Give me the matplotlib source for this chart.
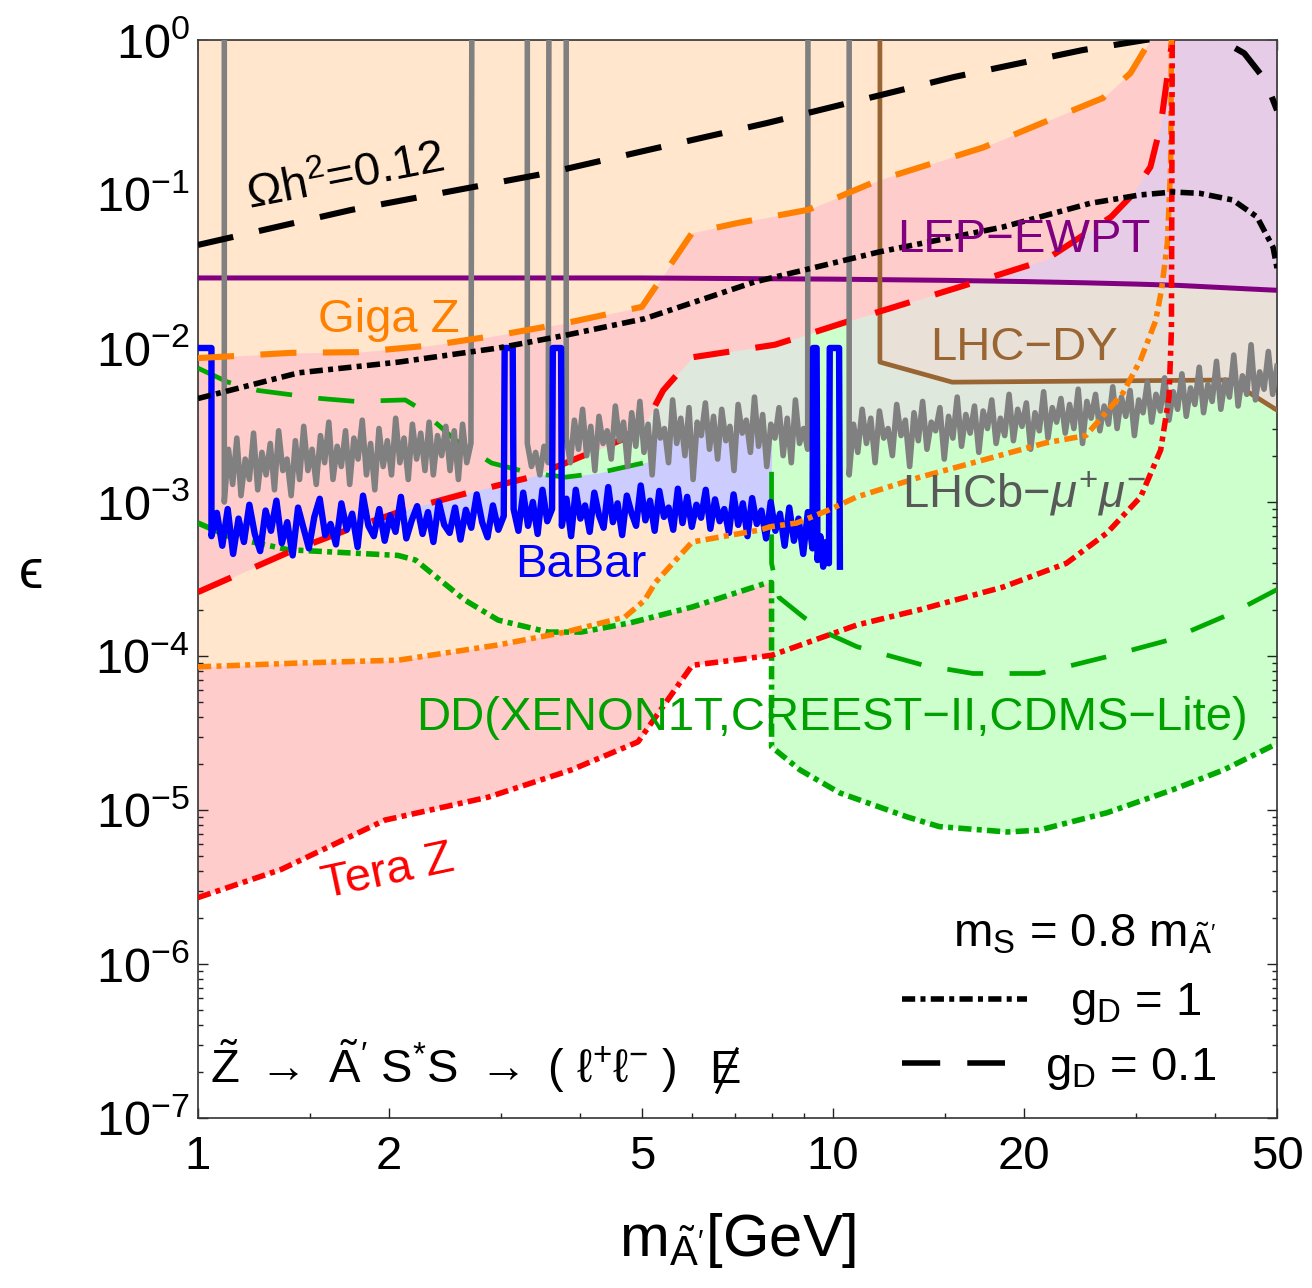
import numpy as np
import matplotlib
matplotlib.use("Agg")
import matplotlib.pyplot as plt
from matplotlib.lines import Line2D
from matplotlib.ticker import FixedLocator

plt.rcParams['font.family'] = ['Liberation Sans', 'DejaVu Sans']
plt.rcParams['mathtext.fontset'] = 'custom'
plt.rcParams['mathtext.rm'] = 'Liberation Sans'
plt.rcParams['mathtext.it'] = 'Liberation Sans:italic'
plt.rcParams['mathtext.bf'] = 'Liberation Sans:bold'
plt.rcParams['lines.scale_dashes'] = False

ORANGE = '#ff8000'
RED = '#ff0000'
GREEN = '#00a800'
BLUE = '#0000ff'
GREY = '#808080'
PURPLE = '#800080'
BROWN = '#996633'

PEACH = '#ffe6cc'
PINK = '#ffcccc'
LGREEN = '#ccffcc'
LBLUE = '#ccccff'
GREYGREEN = '#dfe8dd'
BEIGE = '#e9e1d8'
LAVENDER = '#e6cce6'

# relic density, g_D = 0.1 (dashed) and g_D = 1 (dot-dashed)
relic_01_m = [1.0, 1.74, 3.56, 5.11, 7.87, 15.5, 24.7, 27.8, 31.0, 34.5, 38.0, 40.3, 44.4, 47.9, 50.0]
relic_01_eps = [0.0467, 0.0787, 0.137, 0.193, 0.289, 0.575, 0.86, 0.93, 1.0, 1.06, 1.07, 1.03, 0.82, 0.55, 0.35]
relic_1_m = [1.0, 1.44, 2.07, 2.97, 3.79, 5.05, 7.51, 11.8, 18.5, 25.4, 30.4, 34.3, 37.8, 42.6, 46.5, 49.3, 50.0]
relic_1_eps = [4.7e-3, 6.9e-3, 8.1e-3, 1.0e-2, 1.21e-2, 1.55e-2, 2.68e-2, 4.2e-2, 6.1e-2, 8.7e-2,
               9.86e-2, 0.103, 0.101, 0.0914, 0.071, 0.045, 0.033]

# LEP electroweak precision
lep_m = [1.0, 5.0, 10.0, 15.0, 20.0, 25.0, 30.0, 35.0, 40.0, 45.0, 50.0]
lep_eps = [0.0285, 0.0285, 0.028, 0.0275, 0.027, 0.0265, 0.026, 0.0255, 0.0248, 0.0242, 0.0237]

# LHC Drell-Yan
lhcdy_m = [11.85, 11.85, 15.4, 42.0, 50.0]
lhcdy_eps = [1.0, 8.1e-3, 6.0e-3, 6.2e-3, 3.95e-3]

# Giga Z
gigaz_01_m = [1.0, 1.40, 1.79, 2.33, 2.97, 3.79, 5.0, 6.0, 7.1, 9.14, 11.8, 17.2, 23.3, 26.6, 29.4, 31.6]
gigaz_01_eps = [8.6e-3, 9.3e-3, 9.4e-3, 1.04e-2, 1.21e-2, 1.45e-2, 1.85e-2, 5.6e-2, 6.5e-2, 7.9e-2,
                0.123, 0.20, 0.336, 0.42, 0.61, 1.0]
gigaz_1_m = [1.0, 1.44, 2.07, 2.97, 3.79, 4.70, 5.05, 5.25, 6.0, 7.7, 7.95, 8.76, 9.86, 10.9, 13.7,
             17.2, 21.6, 25.0, 28.6, 30.5, 32.2, 32.9, 33.6, 34.0, 34.1]
gigaz_1_eps = [8.5e-5, 9.0e-5, 9.4e-5, 1.18e-4, 1.43e-4, 1.79e-4, 2.3e-4, 3.0e-4, 5.5e-4, 6.6e-4, 6.9e-4,
               7.3e-4, 8.9e-4, 1.08e-3, 1.45e-3, 1.87e-3, 2.42e-3, 2.7e-3, 5.1e-3, 8.4e-3, 1.5e-2,
               2.4e-2, 4.8e-2, 0.15, 1.0]

# Tera Z
teraz_01_m = [1.0, 1.386, 1.72, 2.12, 2.69, 3.34, 3.79, 4.64, 5.10, 5.4, 6.0, 8.1, 11.1, 17.2, 21.6,
              27.4, 29.4, 31.6, 32.8, 33.6, 34.2]
teraz_01_eps = [2.6e-4, 4.7e-4, 6.6e-4, 8.9e-4, 1.16e-3, 1.45e-3, 1.79e-3, 2.53e-3, 3.4e-3, 5.3e-3,
                8.7e-3, 1.05e-2, 1.59e-2, 2.77e-2, 3.73e-2, 7.1e-2, 9.6e-2, 0.15, 0.28, 0.575, 1.0]
teraz_1_m = [1.0, 1.35, 1.97, 2.86, 3.87, 4.93, 6.0, 8.0, 10.9, 13.7, 18.5, 23.3, 27.0, 30.5, 32.8,
             33.8, 34.1, 34.2]
teraz_1_eps = [2.7e-6, 4.1e-6, 8.6e-6, 1.21e-5, 1.82e-5, 2.77e-5, 8.7e-5, 1.01e-4, 1.59e-4, 2.0e-4,
               2.8e-4, 4.0e-4, 6.3e-4, 1.08e-3, 2.18e-3, 4.8e-3, 1.31e-2, 1.0]

# direct detection (XENON1T, CRESST-II, CDMS-Lite)
dd_01_left_m = [1.0, 1.115, 1.243, 1.386, 1.56, 1.77, 2.12, 2.22, 2.41, 2.54, 2.90, 3.34, 3.79, 4.26, 5.2]
dd_01_left_eps = [7.4e-3, 6.0e-3, 5.3e-3, 5.0e-3, 4.7e-3, 4.5e-3, 4.6e-3, 4.1e-3, 3.07e-3, 2.53e-3,
                  1.79e-3, 1.54e-3, 1.45e-3, 1.54e-3, 1.85e-3]
dd_01_right_m = [8.0, 8.0, 8.22, 8.98, 9.7, 10.9, 12.3, 13.9, 16.6, 21.1, 27.0, 33.8, 42.5, 50.0]
dd_01_right_eps = [1.57e-3, 4.0e-4, 2.4e-4, 1.79e-4, 1.43e-4, 1.15e-4, 1.0e-4, 8.7e-5, 7.7e-5, 7.7e-5,
                   9.9e-5, 1.27e-4, 1.9e-4, 2.7e-4]
dd_1_m = [1.0, 1.127, 1.386, 2.065, 2.2, 2.63, 2.97, 3.56, 4.01, 4.79, 6.0, 7.86, 8.0, 8.0, 8.87,
          10.25, 13.1, 14.7, 18.8, 21.1, 27.0, 34.2, 41.2, 50.0]
dd_1_eps = [7.3e-4, 5.9e-4, 4.9e-4, 4.5e-4, 4.2e-4, 2.31e-4, 1.71e-4, 1.43e-4, 1.43e-4, 1.64e-4,
            2.08e-4, 2.98e-4, 3.0e-4, 2.57e-5, 1.82e-5, 1.29e-5, 9.0e-6, 7.8e-6, 7.2e-6, 7.4e-6,
            9.6e-6, 1.35e-5, 1.82e-5, 2.7e-5]

# BaBar scan (units of 1e-4), split by the J/psi, psi(2S) and Upsilon windows
babar_a = [6.0, 8.5, 5.2, 9.0, 4.6, 7.8, 5.5, 9.6, 6.2, 4.8, 8.8, 6.5, 10.2, 5.4, 7.4, 4.5, 9.2, 6.8,
           5.0, 8.0, 10.5, 6.1, 7.2, 5.3, 9.8, 6.6, 8.4, 5.1, 11.0, 7.0, 6.0, 9.0, 5.6, 8.2, 6.4, 10.8,
           5.8, 7.6, 9.4, 6.2, 8.6, 5.5, 10.0, 7.1, 6.3, 9.2, 5.7, 8.9, 6.8, 11.2, 7.4, 5.9, 9.5, 6.6, 8.1]
babar_b = [9.0, 6.5, 11.5, 7.0, 10.0, 6.2, 12.0, 7.5, 9.0]
babar_c = [7.0, 10.5, 6.0, 12.0, 7.8, 9.5, 6.4, 11.5, 8.2, 6.8, 12.5, 7.4, 9.8, 6.1, 11.0, 8.5, 7.0,
           12.8, 7.6, 10.2, 6.5, 11.8, 8.0, 9.2, 6.6, 12.2, 7.3, 10.8, 6.9, 9.6, 7.9, 12.0, 6.7, 10.4,
           7.5, 9.0, 6.3, 11.2, 7.1, 9.8, 6.0, 10.6, 7.2, 8.8, 5.8, 10.0, 6.5, 8.4, 5.2, 9.2, 5.6, 7.8,
           4.6, 8.6, 5.0]
babar_d = [4.2, 6.0, 3.8, 5.5, 4.0]

# LHCb dimuon scan (units of 1e-3)
lhcb_a = [1.0, 2.2, 1.3, 2.6, 1.1, 1.9, 1.4, 2.8, 1.2, 2.1, 1.5, 2.4, 1.2, 2.9, 1.6, 1.9, 1.1, 2.5,
          1.4, 3.1, 1.6, 2.2, 1.3, 2.7, 1.8, 3.3, 1.4, 2.3, 1.7, 2.9, 1.3, 2.6, 1.9, 3.4, 1.5, 2.4,
          1.2, 3.0, 1.7, 2.5, 1.5, 3.5, 1.8, 2.6, 1.4, 3.2, 1.9, 2.8, 1.6, 3.3, 1.5, 2.7, 2.0, 3.1,
          1.6, 2.9, 1.4, 3.2, 1.8, 2.4]
lhcb_b = [2.4, 1.7, 2.1, 1.5, 2.3, 1.8]
lhcb_c = [2.6, 1.8, 3.4, 2.2, 4.0, 2.0, 3.1, 1.6, 3.6, 2.4, 2.9, 1.9, 4.2, 2.5, 3.3, 1.7, 3.8, 2.3,
          4.5, 2.1, 3.2, 1.5, 3.9, 2.6, 3.0, 1.8, 4.6, 2.4, 3.5, 2.0, 4.1, 1.4, 3.3, 2.7, 4.4, 2.2,
          3.6, 1.9, 4.0, 2.5, 3.1, 1.6, 4.3, 2.8, 3.4, 2.1, 4.8, 2.3, 3.7, 1.7, 3.2, 2.6, 4.1, 2.0,
          3.5, 1.8, 4.6, 2.4, 3.0, 2.2]
lhcb_d = [1.5, 3.2, 2.1, 4.0, 2.4, 3.5, 1.8, 3.9, 2.6, 3.0, 2.0, 4.3, 2.7, 3.4, 1.7, 3.8, 2.5, 4.5,
          2.2, 3.3, 2.9, 4.1, 1.9, 3.6, 2.6, 4.8, 2.3, 3.7, 2.8, 4.2, 2.1, 3.9, 3.0, 4.6, 2.4, 3.5,
          2.7, 5.0, 2.5, 4.0, 3.1, 4.4, 2.2, 3.8, 2.9, 5.2, 2.6, 4.1, 3.3, 4.7, 2.8, 4.3, 3.0, 5.4,
          2.4, 4.5, 3.5, 5.0, 2.9, 4.2, 3.2, 5.6, 3.0, 4.8, 3.6, 5.3, 2.7, 4.6, 3.8, 6.0, 3.3, 5.0,
          3.9, 6.4, 3.4, 5.2, 4.0, 6.8, 3.6, 5.5, 4.3, 7.5, 3.8, 5.8, 4.5, 8.2, 4.0, 6.2, 4.8, 9.0,
          4.2, 6.6, 5.0, 10.5, 4.6, 7.0, 5.4, 9.5, 5.0, 7.6]

babar_m = np.concatenate([[1.0, 1.05], np.geomspace(1.05, 3.03, len(babar_a)), [3.04, 3.13],
                          np.geomspace(3.14, 3.61, len(babar_b)), [3.62, 3.73],
                          np.geomspace(3.74, 9.28, len(babar_c)), [9.30, 9.42],
                          np.geomspace(9.45, 9.85, len(babar_d)), [9.88, 10.22, 10.25]])
babar_eps = np.concatenate([[1e-2, 1e-2], np.array(babar_a) * 1e-4, [1e-2, 1e-2],
                            np.array(babar_b) * 1e-4, [1e-2, 1e-2], np.array(babar_c) * 1e-4,
                            [1e-2, 1e-2], np.array(babar_d) * 1e-4, [1e-2, 1e-2, 3.8e-4]])

# vetoed mass windows run off the top of the frame
lhcb_m = np.concatenate([[1.10], np.geomspace(1.10, 2.69, len(lhcb_a)), [2.70, 3.30],
                         np.geomspace(3.30, 3.56, len(lhcb_b)), [3.57, 3.80],
                         np.geomspace(3.80, 9.12, len(lhcb_c)), [9.13, 10.6],
                         np.geomspace(10.6, 50.0, len(lhcb_d))])
lhcb_eps = np.concatenate([[3.0], np.array(lhcb_a) * 1e-3, [3.0, 3.0], np.array(lhcb_b) * 1e-3,
                           [3.0, 3.0], np.array(lhcb_c) * 1e-3, [3.0, 3.0], np.array(lhcb_d) * 1e-3])

LONG = (0, (26, 19))
DOTDASH = (0, (9.5, 3.8, 3.6, 3.8))

fig = plt.figure(figsize=(13.12, 12.88), dpi=100)
ax = fig.add_axes([198 / 1312, 1 - 1118 / 1288, 1079 / 1312, 1078 / 1288])
ax.set_xscale('log')
ax.set_yscale('log')
ax.set_xlim(1, 50)
ax.set_ylim(1e-7, 1)


def fill_above(m, eps, color, z):
    ax.fill_between(m, np.minimum(eps, 1.0), 1.0, color=color, lw=0, zorder=z)


gm1 = np.array(gigaz_1_m)
fill_above(teraz_1_m, teraz_1_eps, PINK, 1.0)
fill_above(dd_1_m, dd_1_eps, LGREEN, 1.1)
fill_above(gm1[gm1 <= 7.95], np.array(gigaz_1_eps)[gm1 <= 7.95], PEACH, 1.2)
fill_above(babar_m, babar_eps, LBLUE, 1.3)
fill_above(dd_01_left_m, dd_01_left_eps, LGREEN, 1.4)
fill_above(dd_01_right_m, dd_01_right_eps, LGREEN, 1.4)
fill_above(lhcb_m, lhcb_eps, GREYGREEN, 1.5)
fill_above(lhcdy_m, lhcdy_eps, BEIGE, 1.6)
fill_above(lep_m, lep_eps, LAVENDER, 1.7)
fill_above(teraz_01_m, teraz_01_eps, PINK, 1.8)
fill_above(gigaz_01_m, gigaz_01_eps, PEACH, 1.9)

ax.plot(dd_1_m, dd_1_eps, color=GREEN, lw=4.0, ls=DOTDASH, zorder=3.0)
ax.plot(dd_01_left_m, dd_01_left_eps, color=GREEN, lw=3.4, ls=LONG, zorder=3.0)
ax.plot(dd_01_right_m, dd_01_right_eps, color=GREEN, lw=3.4, ls=LONG, zorder=3.0)
ax.plot(lep_m, lep_eps, color=PURPLE, lw=3.6, zorder=3.2)
ax.plot(lhcdy_m, lhcdy_eps, color=BROWN, lw=3.4, zorder=3.2)
ax.plot(teraz_01_m, teraz_01_eps, color=RED, lw=4.4, ls=LONG, zorder=3.3)
ax.plot(lhcb_m, lhcb_eps, color=GREY, lw=4.0, zorder=3.4)
ax.plot(babar_m, babar_eps, color=BLUE, lw=4.6, zorder=3.5)
ax.plot(gigaz_01_m, gigaz_01_eps, color=ORANGE, lw=4.4, ls=LONG, zorder=3.6)
ax.plot(gigaz_1_m, gigaz_1_eps, color=ORANGE, lw=4.0, ls=DOTDASH, zorder=3.6)
ax.plot(teraz_1_m, teraz_1_eps, color=RED, lw=4.0, ls=DOTDASH, zorder=3.7)
ax.plot(relic_01_m, relic_01_eps, color='black', lw=4.4, ls=LONG, zorder=3.8)
ax.plot(relic_1_m, relic_1_eps, color='black', lw=4.0, ls=DOTDASH, zorder=3.8)

# axes, ticks
ax.set_xticks([1, 2, 5, 10, 20, 50], ['1', '2', '5', '10', '20', '50'])
ax.set_xticks([1.5, 3, 4, 6, 7, 8, 9, 15, 30, 40], minor=True)
ax.set_xticklabels([], minor=True)
decades = [10.0 ** k for k in range(-7, 1)]
ax.yaxis.set_major_locator(FixedLocator(decades))
ax.yaxis.set_minor_locator(FixedLocator([s * d for d in decades[:-1] for s in range(2, 10)]))
ax.set_yticklabels(['$\\mathregular{10^{%d}}$' % k for k in range(-7, 1)])
ax.set_yticklabels([], minor=True)
ax.tick_params(which='both', direction='in', top=True, right=True, width=1.0, colors='#222222',
               labelcolor='black')
ax.tick_params(which='major', length=7.5, labelsize=34)
ax.tick_params(axis='y', which='major', labelsize=35)
ax.tick_params(which='minor', length=3.5)
ax.tick_params(axis='x', which='major', pad=12)
ax.tick_params(axis='y', which='major', pad=6)
for s in ax.spines.values():
    s.set_linewidth(1.2)
    s.set_color('#333333')

ax.set_xlabel("m$_{\\mathregular{\\tilde{A}'}}$[GeV]", fontsize=43)
ax.xaxis.set_label_coords(0.5, -0.086)
ax.set_ylabel('ϵ', fontsize=40, rotation=0, va='center', ha='center')
ax.yaxis.set_label_coords(-0.155, 0.505)

# region labels
ax.text(1.71, 0.127, 'Ωh$^{\\mathregular{2}}$=0.12', fontsize=34, rotation=11, ha='center',
        va='center', rotation_mode='anchor', zorder=5)
ax.text(2.0, 0.0152, 'Giga Z', fontsize=34, color=ORANGE, ha='center', va='center', zorder=5)
ax.text(20.0, 0.0502, 'LEP−EWPT', fontsize=34, color=PURPLE, ha='center', va='center', zorder=5)
ax.text(20.0, 0.0100, 'LHC−DY', fontsize=34, color=BROWN, ha='center', va='center', zorder=5)
ax.text(20.0, 1.14e-3, 'LHCb−$\\mu^{+}\\mu^{-}$', fontsize=34, color='#595959', ha='center',
        va='center', zorder=5)
ax.text(4.0, 3.9e-4, 'BaBar', fontsize=34, color=BLUE, ha='center', va='center', zorder=5)
ax.text(9.95, 3.96e-5, 'DD(XENON1T,CREEST−II,CDMS−Lite)', fontsize=34, color='#00a000',
        ha='center', va='center', zorder=5)
ax.text(1.99, 3.96e-6, 'Tera Z', fontsize=34, color=RED, rotation=12, ha='center', va='center',
        rotation_mode='anchor', zorder=5)

# process, with a slashed E for missing energy
ax.text(0.011, 0.0325, r"$\mathregular{\tilde{Z}\ \rightarrow\ \tilde{A}'\ S^{*}S\ \rightarrow\ (\ \ell^{+}\ell^{-}\ )}$",
        transform=ax.transAxes, fontsize=34, ha='left', va='baseline', zorder=5)
ax.text(0.488, 0.0325, 'E', transform=ax.transAxes, fontsize=34, ha='center', va='baseline', zorder=5)
ax.add_line(Line2D([0.481, 0.4995], [0.024, 0.064], transform=ax.transAxes, color='black',
                   lw=2.2, zorder=5))

# legend
ax.text(0.944, 0.159, "m$_{\\mathregular{S}}$ = 0.8 m$_{\\mathregular{\\tilde{A}'}}$",
        transform=ax.transAxes, fontsize=34, ha='right', va='baseline', zorder=5)
ax.add_line(Line2D([0.6525, 0.768], [0.110, 0.110], transform=ax.transAxes, color='black',
                   lw=4.0, ls=DOTDASH, zorder=5))
ax.text(0.9305, 0.0955, 'g$_{\\mathregular{D}}$ = 1', transform=ax.transAxes, fontsize=34,
        ha='right', va='baseline', zorder=5)
ax.add_line(Line2D([0.6525, 0.748], [0.051, 0.051], transform=ax.transAxes, color='black',
                   lw=4.0, ls=(0, (27.5, 19.5)), zorder=5))
ax.text(0.944, 0.0353, 'g$_{\\mathregular{D}}$ = 0.1', transform=ax.transAxes, fontsize=34,
        ha='right', va='baseline', zorder=5)

fig.savefig('out.png', dpi=100)
